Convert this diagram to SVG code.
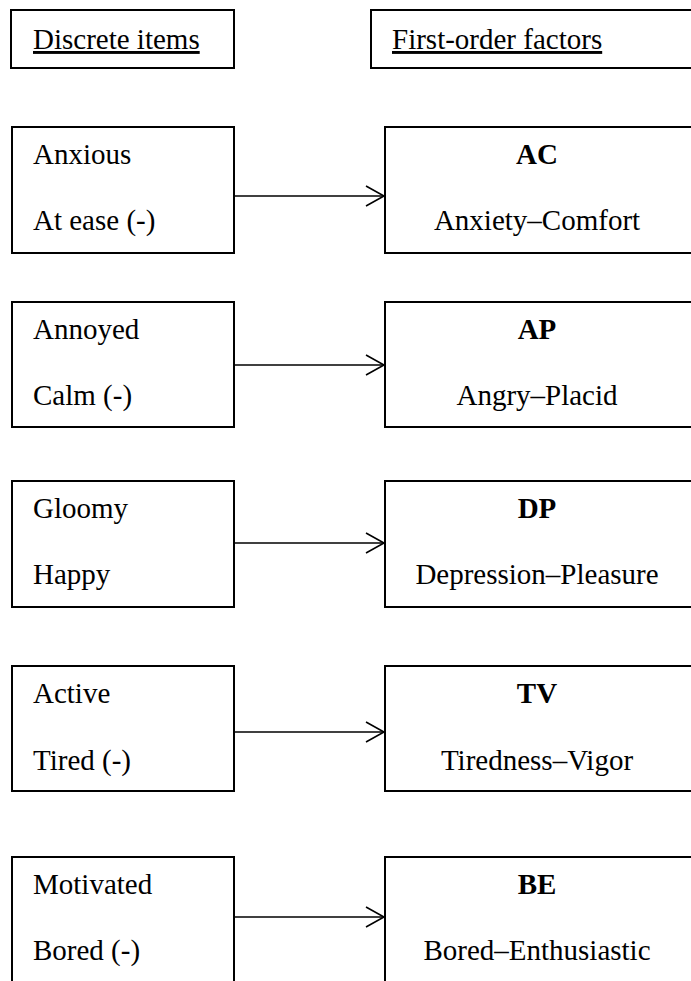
<svg xmlns="http://www.w3.org/2000/svg" width="691" height="981" viewBox="0 0 691 981">
<style>
.box{fill:#fff;stroke:#000;stroke-width:2}
.t{font-family:"Liberation Serif","Times New Roman",serif;font-size:29px;fill:#000}
.h{text-decoration:underline}
.c{text-anchor:middle}
.b{font-weight:bold}
.conn line,.conn polyline{stroke:#000;stroke-width:1.6;fill:none}
</style>
<rect width="691" height="981" fill="#fff"/>
<g id="hdr-items"><rect class="box" x="11" y="10" width="223" height="58"/><text class="t h" x="33" y="49">Discrete items</text></g>
<g id="hdr-factors"><rect class="box" x="371" y="10" width="330" height="58"/><text class="t h" x="392" y="49">First-order factors</text></g>

<g id="items-ac"><rect class="box" x="12" y="127" width="222" height="126"/><text class="t" x="33" y="164">Anxious</text><text class="t" x="33" y="230">At ease (-)</text></g>
<g id="factor-ac"><rect class="box" x="385" y="127" width="320" height="126"/><text class="t b c" x="537" y="164">AC</text><text class="t c" x="537" y="230">Anxiety–Comfort</text></g>

<g id="items-ap"><rect class="box" x="12" y="302" width="222" height="125"/><text class="t" x="33" y="339">Annoyed</text><text class="t" x="33" y="405">Calm (-)</text></g>
<g id="factor-ap"><rect class="box" x="385" y="302" width="320" height="125"/><text class="t b c" x="537" y="339">AP</text><text class="t c" x="537" y="405">Angry–Placid</text></g>

<g id="items-dp"><rect class="box" x="12" y="481" width="222" height="126"/><text class="t" x="33" y="518">Gloomy</text><text class="t" x="33" y="584">Happy</text></g>
<g id="factor-dp"><rect class="box" x="385" y="481" width="320" height="126"/><text class="t b c" x="537" y="518">DP</text><text class="t c" x="537" y="584">Depression–Pleasure</text></g>

<g id="items-tv"><rect class="box" x="12" y="666" width="222" height="125"/><text class="t" x="33" y="703">Active</text><text class="t" x="33" y="770">Tired (-)</text></g>
<g id="factor-tv"><rect class="box" x="385" y="666" width="320" height="125"/><text class="t b c" x="537" y="703">TV</text><text class="t c" x="537" y="770">Tiredness–Vigor</text></g>

<g id="items-be"><rect class="box" x="12" y="857" width="222" height="140"/><text class="t" x="33" y="894">Motivated</text><text class="t" x="33" y="960">Bored (-)</text></g>
<g id="factor-be"><rect class="box" x="385" y="857" width="320" height="140"/><text class="t b c" x="537" y="894">BE</text><text class="t c" x="537" y="960">Bored–Enthusiastic</text></g>

<g id="connectors" class="conn">
<line x1="234" y1="196" x2="384" y2="196"/><polyline points="366,186 384,196 366,206"/>
<line x1="234" y1="365" x2="384" y2="365"/><polyline points="366,355 384,365 366,375"/>
<line x1="234" y1="543" x2="384" y2="543"/><polyline points="366,533 384,543 366,553"/>
<line x1="234" y1="732" x2="384" y2="732"/><polyline points="366,722 384,732 366,742"/>
<line x1="234" y1="917" x2="384" y2="917"/><polyline points="366,907 384,917 366,927"/>
</g>
</svg>
